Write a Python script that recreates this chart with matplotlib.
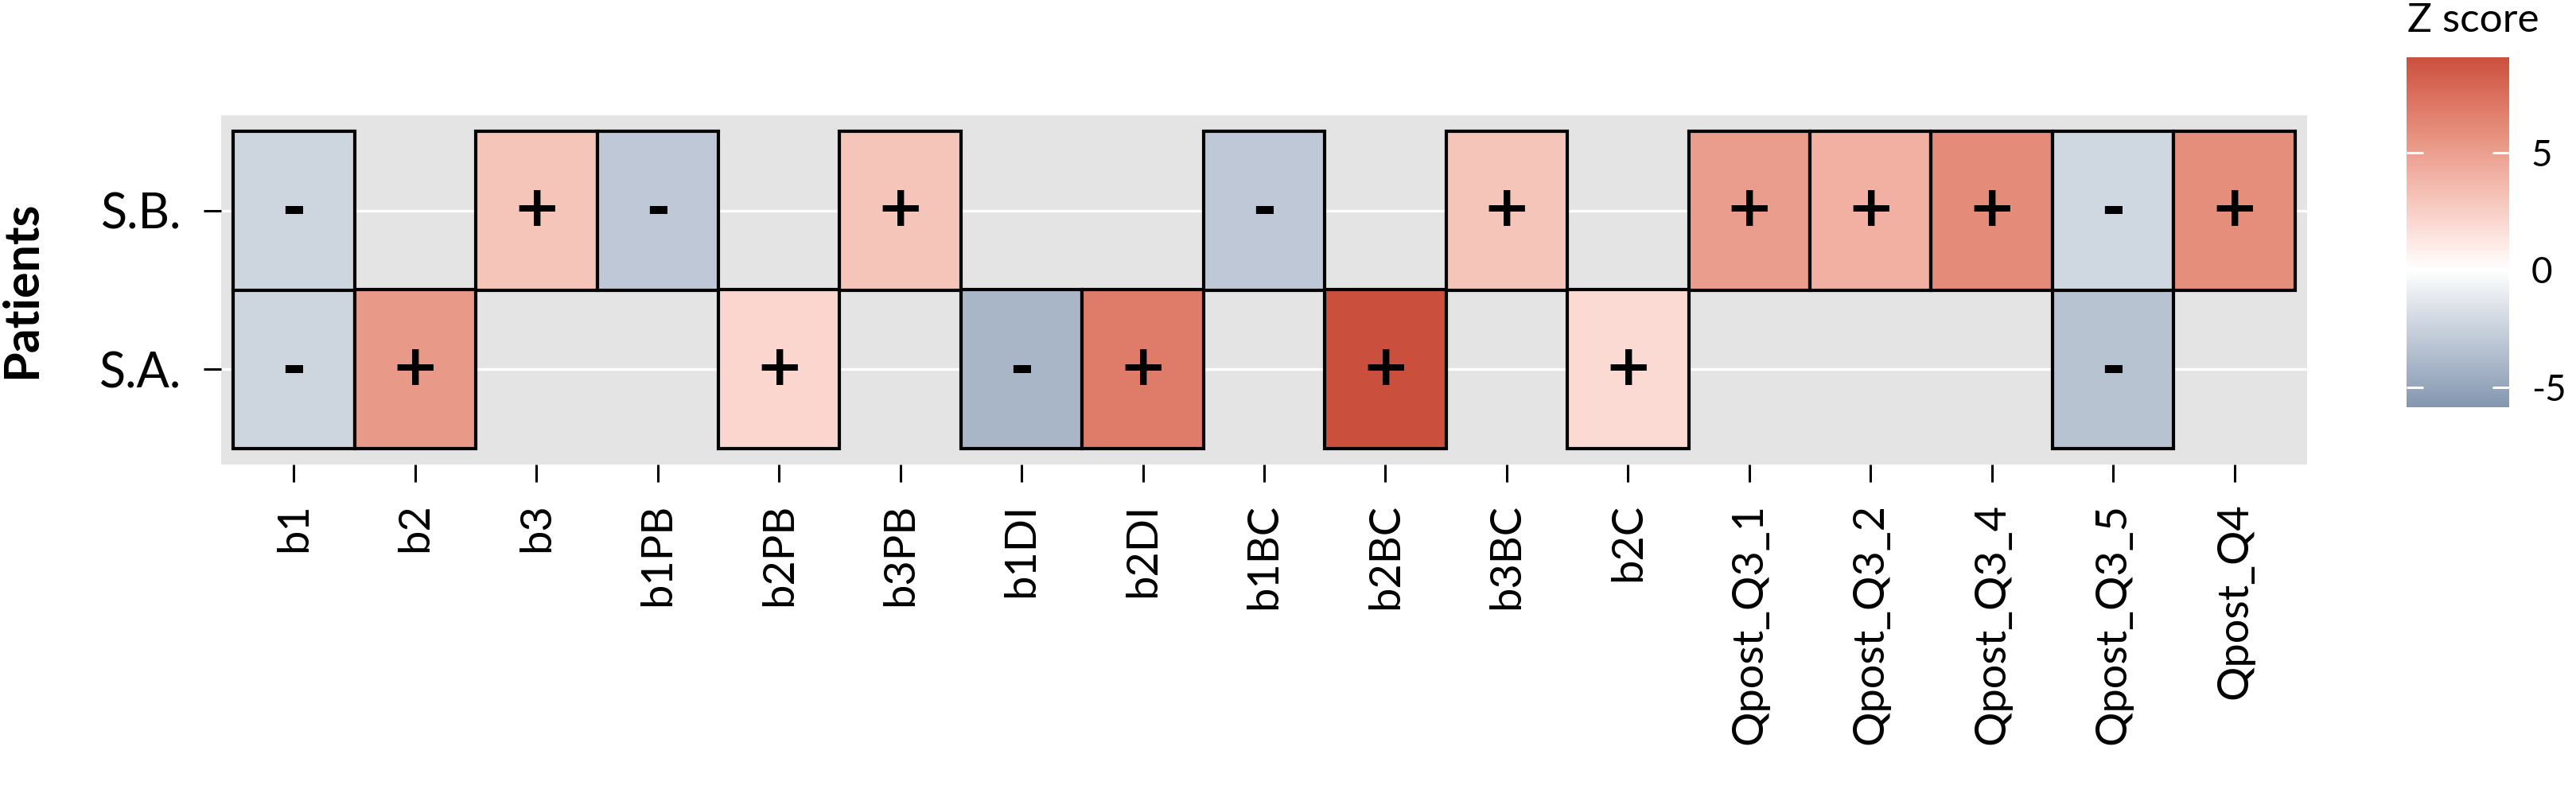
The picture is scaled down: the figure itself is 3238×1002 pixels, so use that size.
import numpy as np
import matplotlib
matplotlib.use("Agg")
import matplotlib.pyplot as plt
from matplotlib.colors import ListedColormap, Normalize
from matplotlib.cm import ScalarMappable

# ---------------- data ----------------
columns = ["b1", "b2", "b3", "b1PB", "b2PB", "b3PB", "b1DI", "b2DI", "b1BC",
           "b2BC", "b3BC", "b2C", "Qpost_Q3_1", "Qpost_Q3_2", "Qpost_Q3_4",
           "Qpost_Q3_5", "Qpost_Q4"]
patients = ["S.A.", "S.B."]          # bottom to top
sb_values = [-2.3, None, 3.0, -3.0, None, 3.0, None, None, -3.0,
             None, 3.0, None, 5.1, 4.1, 6.0, -2.2, 5.9]
sa_values = [-2.3, 5.3, None, None, 2.1, None, -4.0, 6.8, None,
             9.05, None, 1.9, None, None, None, -3.3, None]
z_min, z_max = -5.86, 9.05
cbar_ticks = [-5, 0, 5]

# ---------------- colour scale (Lab interpolation like ggplot) ----------------
def hex2rgb(h):
    h = h.lstrip("#")
    return np.array([int(h[i:i + 2], 16) / 255 for i in (0, 2, 4)])

M = np.array([[0.4124, 0.3576, 0.1805], [0.2126, 0.7152, 0.0722], [0.0193, 0.1192, 0.9505]])
WHITE = np.array([0.95047, 1.0, 1.08883])

def rgb2lab(c):
    c = np.where(c <= 0.04045, c / 12.92, ((c + 0.055) / 1.055) ** 2.4)
    xyz = M @ c / WHITE
    f = np.where(xyz > 0.008856, np.cbrt(xyz), 7.787 * xyz + 16 / 116)
    return np.array([116 * f[1] - 16, 500 * (f[0] - f[1]), 200 * (f[1] - f[2])])

def lab2rgb(lab):
    L, a, b = lab
    fy = (L + 16) / 116
    fx = fy + a / 500
    fz = fy - b / 200
    f = np.array([fx, fy, fz])
    xyz = np.where(f ** 3 > 0.008856, f ** 3, (f - 16 / 116) / 7.787) * WHITE
    c = np.linalg.inv(M) @ xyz
    c = np.clip(c, 0, 1)
    c = np.where(c <= 0.0031308, 12.92 * c, 1.055 * c ** (1 / 2.4) - 0.055)
    return np.clip(c, 0, 1)

low_lab = rgb2lab(hex2rgb("#8397B0"))
mid_lab = rgb2lab(hex2rgb("#FFFFFF"))
high_lab = rgb2lab(hex2rgb("#CB4F3D"))
vals = np.linspace(z_min, z_max, 512)
cols = []
for v in vals:
    if v < 0:
        t = v / z_min
        cols.append(lab2rgb(mid_lab + (low_lab - mid_lab) * t))
    else:
        t = v / z_max
        cols.append(lab2rgb(mid_lab + (high_lab - mid_lab) * t))
cmap = ListedColormap(np.array(cols))
norm = Normalize(vmin=z_min, vmax=z_max)

# ---------------- figure ----------------
plt.rcParams["font.family"] = ["Lato", "DejaVu Sans"]
W, H = 3238, 1002
fig = plt.figure(figsize=(W / 100, H / 100), dpi=100)
ax = fig.add_axes([278 / W, 1 - 584 / H, (2900 - 278) / W, (584 - 145) / H])
ax.set_facecolor("#E4E4E4")
for s in ax.spines.values():
    s.set_visible(False)

ax.set_xlim(-0.6, len(columns) - 1 + 0.6)
ax.set_ylim(-0.6, 1.6)
for yy in range(len(patients)):
    ax.axhline(yy, color="white", lw=2.4, zorder=0.5)

rows = {"S.A.": sa_values, "S.B.": sb_values}
for yi, p in enumerate(patients):
    for xi, v in enumerate(rows[p]):
        if v is None:
            continue
        ax.bar(xi, 1.0, bottom=yi - 0.5, width=1.0, color=cmap(norm(v)),
               edgecolor="black", linewidth=3.0, zorder=2)
        ax.text(xi, yi, "+" if v > 0 else "-", ha="center", va="center",
                fontsize=52, fontweight="bold", color="black", zorder=3,
                family=["DejaVu Sans"])

ax.set_xticks(range(len(columns)))
ax.set_xticklabels(columns, rotation=90, fontsize=39)
ax.set_yticks(range(len(patients)))
ax.set_yticklabels(patients, fontsize=44)
ax.tick_params(axis="both", length=16, width=2.2, color="black")
ax.tick_params(axis="x", pad=19)
ax.tick_params(axis="y", pad=20)
ax.set_ylabel("Patients", fontsize=44, fontweight="bold")
ax.yaxis.set_label_coords((55 - 278) / (2900 - 278), 0.5)

# ---------------- colour bar ----------------
cax = fig.add_axes([3025 / W, 1 - 512 / H, 129 / W, 440 / H])
cb = fig.colorbar(ScalarMappable(norm=norm, cmap=cmap), cax=cax, ticks=cbar_ticks)
cb.outline.set_visible(False)
cax.tick_params(axis="y", which="major", direction="in", length=15, width=2.2,
                color="white", left=True, right=True, labelsize=33, pad=20)
cax.set_yticklabels(["-5", "0", "5"])
fig.text(3026 / W, 1 - 40 / H, "Z score", fontsize=37, ha="left", va="baseline")

fig.savefig("out.png", dpi=100)
